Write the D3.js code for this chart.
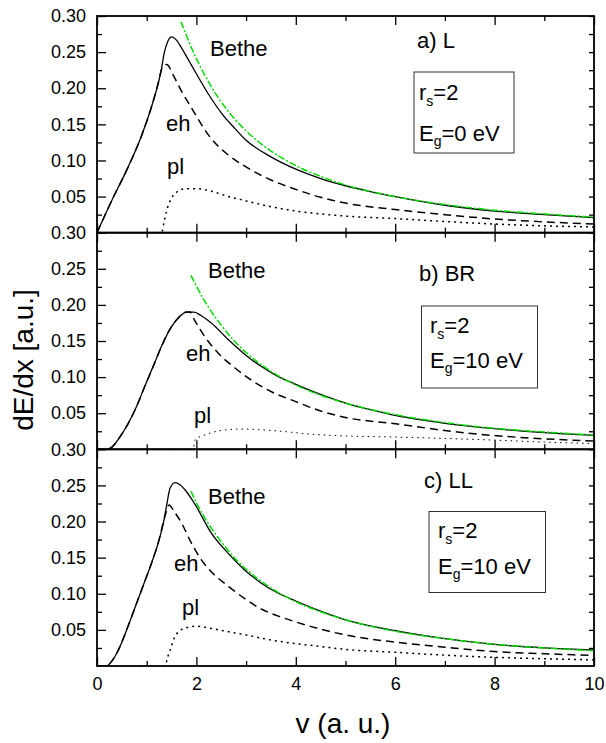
<!DOCTYPE html>
<html><head><meta charset="utf-8">
<script src="https://cdn.jsdelivr.net/npm/d3@7"></script>
<style>
html,body{margin:0;padding:0;background:#fff;}
svg{display:block;}
text{font-family:"Liberation Sans",Arial,sans-serif;fill:#000;}
</style></head>
<body><svg id="chart" width="606" height="743"></svg>
<script>
// ---------- data (v in a.u., dE/dx in a.u.) ----------
const xTicksMajor = [0, 2, 4, 6, 8, 10];
const xTicksMinor = [1, 3, 5, 7, 9];
const yTickLabels = [0.05, 0.10, 0.15, 0.20, 0.25, 0.30];
const yTicksMinor = [0.025, 0.075, 0.125, 0.175, 0.225, 0.275];

// Panel a) L, Eg = 0 eV
const totalA = [[0,0],[0.3,0.045],[0.6,0.087],[0.9,0.135],[1.1,0.175],[1.25,0.212],[1.3,0.228],[1.35,0.248],[1.42,0.264],[1.5,0.271],[1.58,0.268],[1.7,0.256],[1.85,0.238],[2.0,0.220],[2.25,0.191],[2.5,0.166],[2.75,0.146],[3.0,0.128],[3.5,0.105],[4.0,0.088],[4.5,0.075],[5.0,0.065],[5.5,0.057],[6.0,0.050],[7.0,0.038],[8.0,0.030],[9.0,0.025],[10,0.021]];
const ehA = [[0,0],[0.3,0.045],[0.6,0.087],[0.9,0.135],[1.1,0.175],[1.25,0.212],[1.3,0.226],[1.4,0.233],[1.55,0.216],[1.7,0.196],[1.9,0.173],[2.1,0.150],[2.3,0.130],[2.6,0.110],[3.0,0.091],[3.5,0.073],[4.0,0.060],[4.5,0.049],[5.0,0.041],[6.0,0.032],[7.0,0.025],[8.0,0.019],[9.0,0.015],[10,0.012]];
const plA = [[0,0],[1.3,0],[1.35,0.015],[1.4,0.030],[1.5,0.048],[1.6,0.056],[1.7,0.060],[1.85,0.061],[2.0,0.061],[2.3,0.0575],[2.6,0.051],[3.0,0.044],[3.5,0.036],[4.0,0.030],[4.5,0.026],[5.0,0.023],[6.0,0.0195],[7.0,0.0155],[8.0,0.012],[9.0,0.0095],[10,0.008]];
const betheA = [[1.69,0.292],[1.8,0.273],[1.9,0.256],[2.0,0.241],[2.25,0.208],[2.5,0.181],[2.75,0.159],[3.0,0.141],[3.5,0.113],[4.0,0.093],[4.5,0.078],[5.0,0.066],[6.0,0.050],[7.0,0.039],[8.0,0.031],[9.0,0.026],[10,0.0215]];

// Panel b) BR, Eg = 10 eV
const totalB = [[0,0],[0.2,0],[0.3,0.003],[0.45,0.016],[0.63,0.036],[0.8,0.060],[0.96,0.087],[1.15,0.118],[1.3,0.143],[1.5,0.170],[1.65,0.183],[1.8,0.190],[1.95,0.190],[2.1,0.185],[2.3,0.175],[2.64,0.152],[3.0,0.130],[3.3,0.115],[3.64,0.101],[4.0,0.090],[4.5,0.076],[5.0,0.064],[5.5,0.055],[6.0,0.047],[7.0,0.036],[8.0,0.0285],[9.0,0.023],[10,0.0192]];
const ehB = [[0,0],[0.2,0],[0.3,0.003],[0.45,0.016],[0.63,0.036],[0.8,0.060],[0.96,0.087],[1.15,0.118],[1.3,0.143],[1.5,0.170],[1.65,0.183],[1.8,0.190],[1.87,0.190],[1.97,0.178],[2.17,0.156],[2.44,0.133],[2.77,0.113],[3.1,0.096],[3.5,0.080],[4.0,0.066],[4.5,0.053],[5.0,0.044],[6.0,0.0355],[7.0,0.026],[8.0,0.019],[9.0,0.0145],[10,0.0113]];
const plB = [[0,0],[1.93,0],[1.97,0.012],[2.0,0.015],[2.1,0.018],[2.3,0.023],[2.6,0.027],[2.9,0.028],[3.3,0.027],[3.7,0.025],[4.3,0.021],[5.0,0.0185],[6.0,0.017],[7.0,0.015],[8.0,0.0127],[9.0,0.010],[10,0.008]];
const betheB = [[1.89,0.241],[2.0,0.226],[2.25,0.196],[2.5,0.172],[2.75,0.151],[3.0,0.134],[3.5,0.108],[4.0,0.089],[4.5,0.075],[5.0,0.064],[6.0,0.048],[7.0,0.037],[8.0,0.029],[9.0,0.024],[10,0.0198]];

// Panel c) LL, Eg = 10 eV
const totalC = [[0,0],[0.19,0],[0.29,0.006],[0.4,0.018],[0.5,0.033],[0.63,0.056],[0.76,0.080],[0.96,0.117],[1.1,0.143],[1.23,0.170],[1.33,0.196],[1.40,0.222],[1.47,0.246],[1.57,0.254],[1.67,0.251],[1.77,0.244],[1.97,0.224],[2.3,0.184],[2.64,0.156],[2.97,0.133],[3.3,0.115],[3.64,0.101],[4.0,0.090],[4.5,0.076],[5.0,0.064],[6.0,0.049],[7.0,0.038],[8.0,0.030],[9.0,0.025],[10,0.022]];
const ehC = [[0,0],[0.19,0],[0.29,0.006],[0.4,0.018],[0.5,0.033],[0.63,0.056],[0.76,0.080],[0.96,0.117],[1.1,0.143],[1.23,0.170],[1.37,0.208],[1.45,0.223],[1.55,0.214],[1.7,0.198],[1.9,0.170],[2.1,0.147],[2.35,0.127],[2.65,0.110],[3.0,0.092],[3.3,0.079],[3.65,0.069],[4.0,0.061],[4.5,0.051],[5.0,0.043],[6.0,0.033],[7.0,0.026],[8.0,0.020],[9.0,0.017],[10,0.0145]];
const plC = [[0,0],[1.37,0],[1.42,0.012],[1.47,0.022],[1.55,0.038],[1.65,0.048],[1.8,0.053],[2.0,0.055],[2.3,0.052],[2.6,0.048],[3.0,0.043],[3.5,0.036],[4.0,0.031],[4.5,0.027],[5.0,0.023],[6.0,0.019],[7.0,0.015],[8.0,0.012],[9.0,0.010],[10,0.0085]];
const betheC = [[1.89,0.242],[2.0,0.226],[2.25,0.196],[2.5,0.172],[2.75,0.151],[3.0,0.134],[3.5,0.108],[4.0,0.089],[4.5,0.075],[5.0,0.064],[6.0,0.048],[7.0,0.038],[8.0,0.030],[9.0,0.025],[10,0.021]];

const panelTitles = ["a) L", "b) BR", "c) LL"];
const gapLabels = ["0", "10", "10"];

// ---------- layout ----------
const svg = d3.select("#chart");
const L = 97, R = 594;
const panels = [
  {top:16, bottom:232.7, total:totalA, eh:ehA, pl:plA, bethe:betheA, plThin:false,
   title:[417,48], bethe_lbl:[210,56], eh_lbl:[166,131], pl_lbl:[167,174],
   box:[414,72,100,81], rs:[419,100], eg:[419,141]},
  {top:232.7, bottom:449.3, total:totalB, eh:ehB, pl:plB, bethe:betheB, plThin:true,
   title:[419,281], bethe_lbl:[208,278], eh_lbl:[186,361], pl_lbl:[194,423],
   box:[421.5,306,116,82], rs:[430,333], eg:[430,368]},
  {top:449.3, bottom:666, total:totalC, eh:ehC, pl:plC, bethe:betheC, plThin:false,
   title:[424,488], bethe_lbl:[208,504], eh_lbl:[174,571], pl_lbl:[182,615],
   box:[429,511.5,116.5,81], rs:[438,538], eg:[438,574]}
];

const x = d3.scaleLinear().domain([0, 10]).range([L, R]);

svg.append("defs").selectAll("clipPath").data(panels).join("clipPath")
  .attr("id", (d,i) => "clip" + i)
  .append("rect").attr("x", L).attr("y", d => d.top).attr("width", R - L).attr("height", d => d.bottom - d.top);

panels.forEach((p, i) => {
  const y = d3.scaleLinear().domain([0, 0.30]).range([p.bottom, p.top]);
  const line = d3.line().x(d => x(d[0])).y(d => y(d[1])).curve(d3.curveMonotoneX);
  const g = svg.append("g");
  const plot = g.append("g").attr("clip-path", `url(#clip${i})`);

  plot.append("path").datum(p.pl).attr("d", line).attr("fill", "none")
    .attr("stroke", "#000").attr("stroke-width", p.plThin ? 1 : 1.5)
    .attr("stroke-dasharray", p.plThin ? "1.5,4" : "2,4");
  plot.append("path").datum(p.eh).attr("d", line).attr("fill", "none")
    .attr("stroke", "#000").attr("stroke-width", 1.5).attr("stroke-dasharray", "8,5");
  plot.append("path").datum(p.total).attr("d", line).attr("fill", "none")
    .attr("stroke", "#000").attr("stroke-width", 1.3);
  plot.append("path").datum(p.bethe).attr("d", line).attr("fill", "none")
    .attr("stroke", "#00dd00").attr("stroke-width", 1.5).attr("stroke-dasharray", "7,2,2,2");

  // axes (ticks inward)
  const ax = (gen, tx, ty) => {
    const a = g.append("g").attr("transform", `translate(${tx},${ty})`).call(gen);
    a.select(".domain").remove();
    a.selectAll("line").attr("stroke", "#000").attr("stroke-width", 1.3);
    return a;
  };
  ax(d3.axisTop(x).tickValues(xTicksMajor).tickSize(-9).tickFormat(""), 0, p.top);
  ax(d3.axisTop(x).tickValues(xTicksMinor).tickSize(-5).tickFormat(""), 0, p.top);
  const bottomMajor = ax(d3.axisBottom(x).tickValues(xTicksMajor).tickSize(-9).tickPadding(11)
      .tickFormat(i === 2 ? d3.format("d") : ""), 0, p.bottom);
  bottomMajor.selectAll("text").attr("font-size", 18).attr("font-family", "Liberation Sans, Arial, sans-serif");
  ax(d3.axisBottom(x).tickValues(xTicksMinor).tickSize(-5).tickFormat(""), 0, p.bottom);

  const leftMajor = ax(d3.axisLeft(y).tickValues(yTickLabels).tickSize(-9).tickPadding(11)
      .tickFormat(d3.format(".2f")), L, 0);
  leftMajor.selectAll("text").attr("font-size", 18).attr("font-family", "Liberation Sans, Arial, sans-serif");
  ax(d3.axisLeft(y).tickValues(yTicksMinor).tickSize(-5).tickFormat(""), L, 0);
  ax(d3.axisRight(y).tickValues(yTickLabels.concat(yTicksMinor)).tickSize(-5).tickFormat(""), R, 0);

  // frame
  g.append("rect").attr("x", L).attr("y", p.top).attr("width", R - L).attr("height", p.bottom - p.top)
    .attr("fill", "none").attr("stroke", "#000").attr("stroke-width", 1.8);

  // labels
  const lbl = (pos, txt) => g.append("text").attr("x", pos[0]).attr("y", pos[1]).attr("font-size", 22).text(txt);
  lbl(p.title, panelTitles[i]);
  lbl(p.bethe_lbl, "Bethe");
  lbl(p.eh_lbl, "eh");
  lbl(p.pl_lbl, "pl");

  g.append("rect").attr("x", p.box[0]).attr("y", p.box[1]).attr("width", p.box[2]).attr("height", p.box[3])
    .attr("fill", "#fff").attr("stroke", "#333").attr("stroke-width", 1);
  const rs = g.append("text").attr("x", p.rs[0]).attr("y", p.rs[1]).attr("font-size", 22);
  rs.append("tspan").text("r");
  rs.append("tspan").attr("font-size", 14).attr("dy", 6).text("s");
  rs.append("tspan").attr("dy", -6).text("=2");
  const eg = g.append("text").attr("x", p.eg[0]).attr("y", p.eg[1]).attr("font-size", 22);
  eg.append("tspan").text("E");
  eg.append("tspan").attr("font-size", 14).attr("dy", 5).text("g");
  eg.append("tspan").attr("dy", -5).text("=" + gapLabels[i] + " eV");
});

svg.append("text").attr("transform", "translate(33,360) rotate(-90)")
  .attr("text-anchor", "middle").attr("font-size", 28).text("dE/dx [a.u.]");
svg.append("text").attr("x", 343).attr("y", 733)
  .attr("text-anchor", "middle").attr("font-size", 28).text("v (a. u.)");
</script>
</body></html>
